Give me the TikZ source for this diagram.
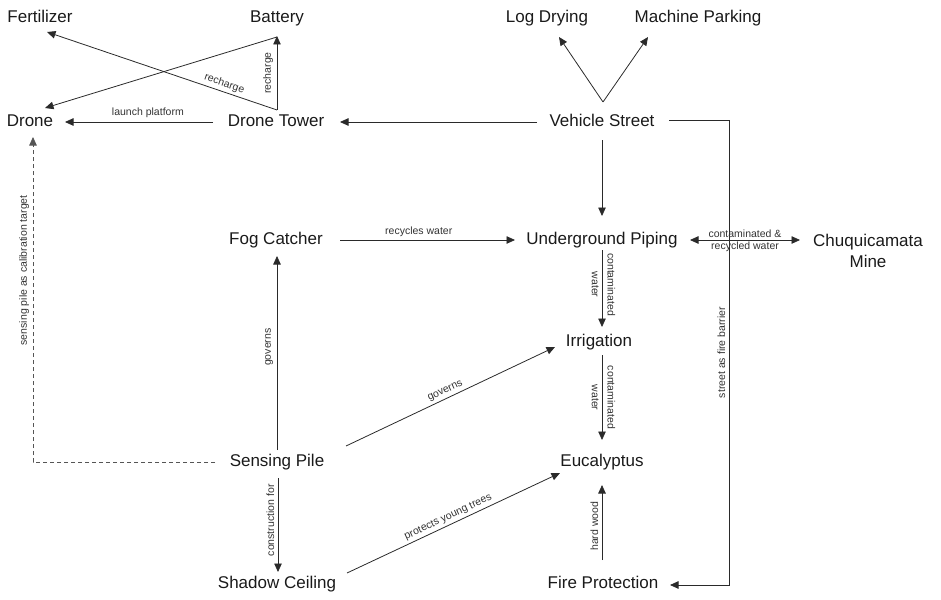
\documentclass[tikz,border=0pt]{standalone}
\usepackage{fontspec}
\setmainfont{Liberation Sans}
\usetikzlibrary{arrows.meta,calc}
\definecolor{txtc}{HTML}{1A1A1A}
\definecolor{labc}{HTML}{333333}
\definecolor{linec}{HTML}{2A2A2A}
\newcommand{\nodefont}{\fontsize{17}{20.5}\selectfont}
\newcommand{\labfont}{\fontsize{10.5}{13}\selectfont}
\begin{document}
\begin{tikzpicture}[x=1pt,y=1pt,
  concept/.style={font=\nodefont, text=txtc, inner sep=0pt, text height=12pt, text depth=3.5pt},
  arr/.style={draw=linec, line width=0.8pt, -{Triangle[length=8.5pt,width=7.5pt]}},
  darr/.style={draw=linec, line width=0.8pt, {Triangle[length=8.5pt,width=7.5pt]}-{Triangle[length=8.5pt,width=7.5pt]}},
  dasharr/.style={draw=linec!80, line width=0.8pt, dash pattern=on 4pt off 3pt, -{Triangle[length=8.5pt,width=7.5pt]}},
  lab/.style={font=\labfont, text=labc, inner sep=2.5pt},
  vlabL/.style={lab, rotate=90, anchor=south, inner sep=3.5pt},
  vlabRa/.style={lab, rotate=-90, anchor=south, inner sep=5pt},
  vlabRb/.style={lab, rotate=-90, anchor=north, inner sep=3pt}
]
\useasboundingbox (0,-599) rectangle (941,0);

% nodes
\node[concept] (fert) at (40,-18) {Fertilizer};
\node[concept] (bat) at (277,-18) {Battery};
\node[concept] (drone) at (30,-122) {Drone};
\node[concept] (dt) at (276,-122) {Drone Tower};
\node[concept] (log) at (547,-18) {Log Drying};
\node[concept] (mp) at (698,-18) {Machine Parking};
\node[concept] (vs) at (602,-122) {Vehicle Street};
\node[concept] (fog) at (276,-240) {Fog Catcher};
\node[concept] (up) at (602,-240) {Underground Piping};
\node[font=\nodefont, text=txtc, inner sep=0pt, align=center] (chq) at (868,-251) {Chuquicamata\\Mine};
\node[concept] (irr) at (599,-342) {Irrigation};
\node[concept] (sp) at (277,-462) {Sensing Pile};
\node[concept] (euc) at (602,-462) {Eucalyptus};
\node[concept] (sc) at (277,-584) {Shadow Ceiling};
\node[concept] (fp) at (603,-584) {Fire Protection};

\coordinate (c1) at (729,-120);
\coordinate (c2) at (729,-585);

% connectors
\draw[arr] ($(dt)+(1,12)$) -- node[lab, sloped, above, pos=0.24]{recharge} ($(fert)+(7,-14)$);
\draw[arr] ($(dt)+(1,12)$) -- node[vlabL, pos=0.5]{recharge} ($(bat)+(0,-18)$);
\draw[arr] ($(bat)+(0,-19)$) -- ($(drone)+(15,14)$);
\draw[arr] ($(dt)+(-63,0)$) -- node[lab, above, pos=0.44, inner sep=4pt]{launch platform} ($(drone)+(35,0)$);

\draw[arr] ($(vs)+(1,20)$) -- ($(log)+(12,-19)$);
\draw[arr] ($(vs)+(1,20)$) -- ($(mp)+(-50,-19)$);
\draw[arr] ($(vs)+(-65,0)$) -- ($(dt)+(64,0)$);
\draw[arr] ($(vs)+(67,2)$) -- (c1) -- node[vlabL, pos=0.5]{street as fire barrier} (c2) -- ($(fp)+(67,-1)$);
\draw[arr] ($(vs)+(0,-18)$) -- ($(up)+(0,24)$);

\draw[arr] ($(fog)+(64,0)$) -- node[lab, above, pos=0.45, inner sep=3pt]{recycles water} ($(up)+(-87,0)$);
\draw[darr] ($(up)+(88,0)$) -- node[lab, above, inner sep=1.5pt]{contaminated \&} node[lab, below, inner sep=1.5pt]{recycled water} ($(chq)+(-68,11)$);

\draw[arr] ($(up)+(0,-10)$) -- node[vlabRa, pos=0.45]{contaminated} node[vlabRb, pos=0.45]{water} ($(irr)+(3,15)$);
\draw[arr] ($(irr)+(3,-13)$) -- node[vlabRa]{contaminated} node[vlabRb]{water} ($(euc)+(0,22)$);

\draw[arr] ($(sp)+(0,12)$) -- node[vlabL, pos=0.53]{governs} ($(fog)+(1,-16)$);
\draw[arr] ($(sp)+(69,16)$) -- node[lab, sloped, above, pos=0.49]{governs} ($(irr)+(-44,-5)$);
\draw[arr] ($(sp)+(1,-16)$) -- node[vlabL, pos=0.45]{construction for} ($(sc)+(1,12)$);
\draw[dasharr] ($(sp)+(-62,0)$) -| node[vlabL, pos=0.795]{sensing pile as calibration target} ($(drone)+(3,-15)$);

\draw[arr] ($(sc)+(70,11)$) -- node[lab, sloped, above, pos=0.49]{protects young trees} ($(euc)+(-42,-11)$);
\draw[arr] ($(fp)+(-1,24)$) -- node[vlabL, pos=0.45]{hard wood} ($(euc)+(0,-23)$);
\end{tikzpicture}
\end{document}
